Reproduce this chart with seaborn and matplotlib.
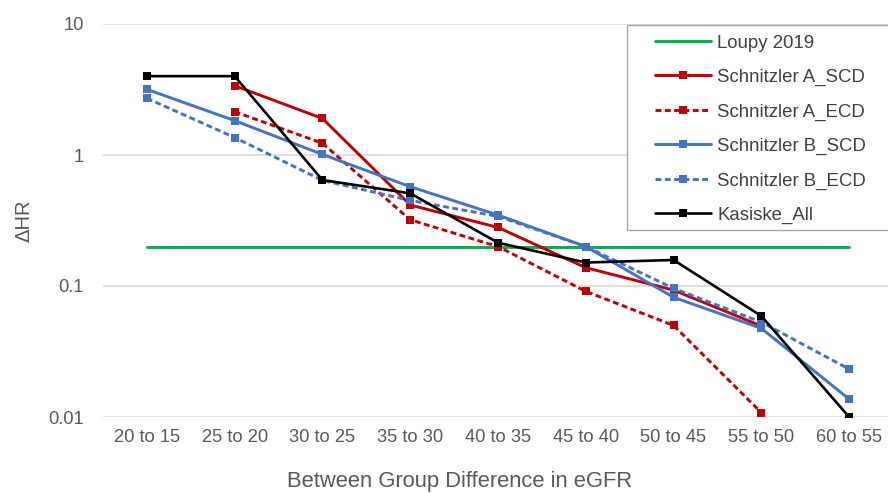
import numpy as np
import pandas as pd
import seaborn as sns
import matplotlib.pyplot as plt
from matplotlib.patches import Rectangle

# categories on the x axis (eGFR difference bins)
categories = ['20 to 15', '25 to 20', '30 to 25', '35 to 30', '40 to 35',
              '45 to 40', '50 to 45', '55 to 50', '60 to 55']

# delta HR (nan = no point)
loupy_2019 = [0.2, 0.2, 0.2, 0.2, 0.2, 0.2, 0.2, 0.2, 0.2]
schnitzler_a_scd = [np.nan, 3.38, 1.9, 0.415, 0.28, 0.138, 0.093, 0.0495, np.nan]
schnitzler_a_ecd = [np.nan, 2.14, 1.23, 0.32, 0.20, 0.091, 0.050, 0.0108, np.nan]
schnitzler_b_scd = [3.17, 1.83, 1.01, 0.573, 0.348, 0.20, 0.082, 0.0475, 0.0137]
schnitzler_b_ecd = [2.71, 1.36, 0.64, 0.45, 0.34, 0.20, 0.096, 0.053, 0.0232]
kasiske_all = [4.0, 4.0, 0.644, 0.51, 0.214, 0.151, 0.158, 0.059, 0.01]

series = [
    ('Loupy 2019', loupy_2019, '#00B050', '-', None),
    ('Schnitzler A_SCD', schnitzler_a_scd, '#C00000', '-', 's'),
    ('Schnitzler A_ECD', schnitzler_a_ecd, '#C00000', (0, (2, 1.2)), 's'),
    ('Schnitzler B_SCD', schnitzler_b_scd, '#4472C4', '-', 's'),
    ('Schnitzler B_ECD', schnitzler_b_ecd, '#4472C4', (0, (2, 1.2)), 's'),
    ('Kasiske_All', kasiske_all, '#000000', '-', 's'),
]

sns.set_style('white')
plt.rcParams['font.family'] = ['Liberation Sans', 'DejaVu Sans']

fig = plt.figure(figsize=(8.88, 4.93), dpi=100)
ax = fig.add_axes([103 / 888, 1 - 417 / 493, 790 / 888, (417 - 24) / 493])

x = np.arange(len(categories))
for name, vals, color, ls, marker in series:
    df = pd.DataFrame({'x': x, 'y': vals}).dropna()
    sns.lineplot(data=df, x='x', y='y', ax=ax, color=color, linestyle=ls,
                 marker=marker, markersize=6, markeredgewidth=0,
                 linewidth=2.1 if name != 'Kasiske_All' else 1.9, label=name)

ax.set_yscale('log')
ax.set_ylim(0.01, 10)
ax.set_xlim(-0.5, len(categories) - 0.5)
ax.set_yticks([0.01, 0.1, 1, 10])
ax.set_yticklabels(['0.01', '0.1', '1', '10'])
ax.yaxis.set_minor_locator(plt.NullLocator())
ax.set_xticks(x)
ax.set_xticklabels(categories)
ax.tick_params(axis='both', length=0, labelsize=13.2, labelcolor='#595959')
ax.tick_params(axis='y', pad=14)
ax.tick_params(axis='x', pad=9)
ax.grid(axis='y', color='#D9D9D9', linewidth=1.2)
ax.set_axisbelow(True)
for s in ax.spines.values():
    s.set_visible(False)
ax.set_xlabel('')
ax.set_ylabel('')

fig.text(460 / 888, 1 - 482 / 493, 'Between Group Difference in eGFR',
         ha='center', va='center', fontsize=15.8, color='#595959')
fig.text(24 / 888, 1 - 221 / 493, 'ΔHR', ha='center', va='center',
         rotation=90, fontsize=14.5, color='#595959')

handles, labels = ax.get_legend_handles_labels()
ax.get_legend().remove()

# white legend box with grey border, drawn over the plot area
fig.patches.append(Rectangle((627 / 888, 1 - 230 / 493), 270 / 888, 205 / 493,
                             transform=fig.transFigure, fill=True,
                             facecolor='white', edgecolor='#A6A6A6',
                             linewidth=1.0, zorder=2))

leg = fig.legend(handles, labels, loc='upper left',
                 bbox_to_anchor=(655 / 888, 1 - 34.5 / 493),
                 frameon=False, fontsize=13.4,
                 handlelength=3.0, handletextpad=0.35, labelspacing=0.93,
                 borderpad=0, borderaxespad=0)
leg.set_zorder(3)
for t in leg.get_texts():
    t.set_color('#404040')

fig.savefig('out.png', dpi=100)
